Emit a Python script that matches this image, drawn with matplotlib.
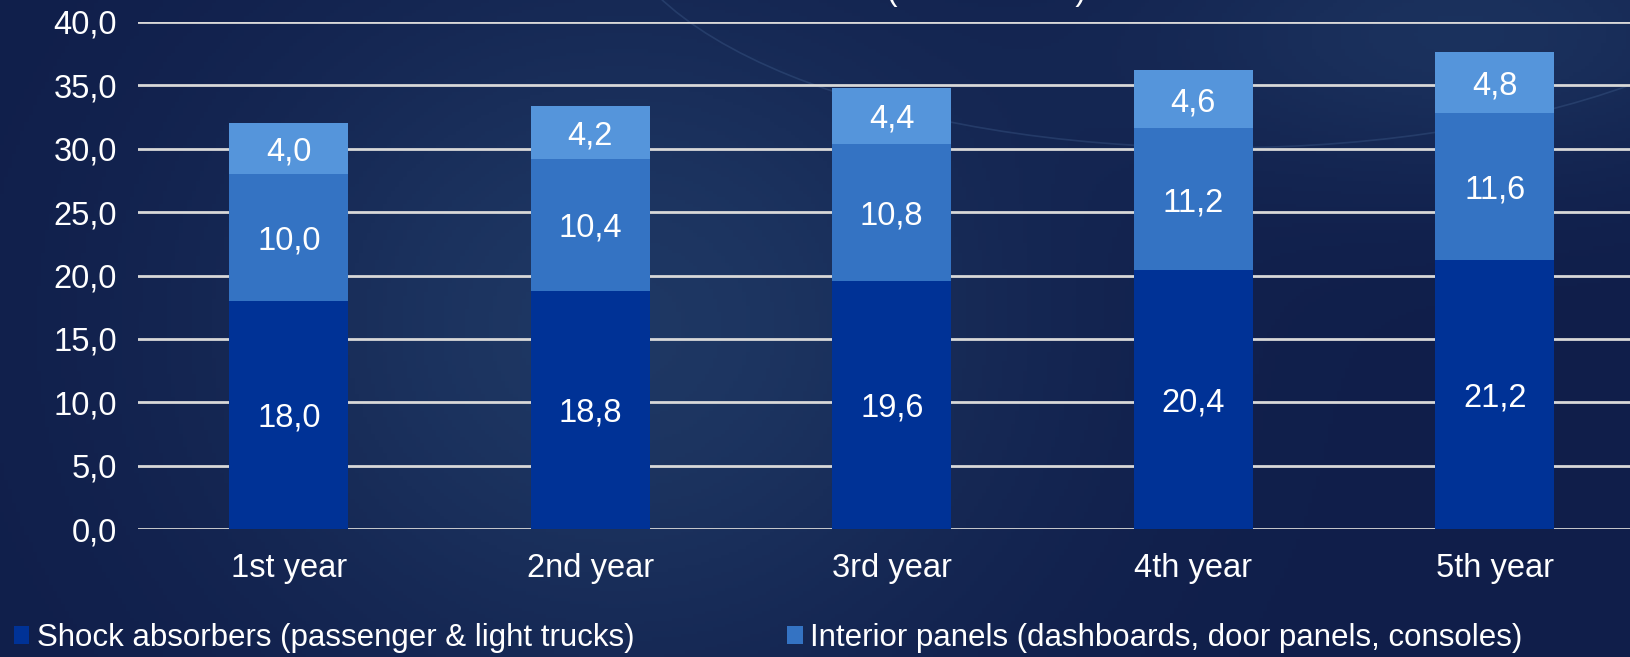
import numpy as np
import matplotlib
matplotlib.use("Agg")
import matplotlib.pyplot as plt
from matplotlib.patches import Ellipse

plt.rcParams['font.family'] = ['Liberation Sans', 'DejaVu Sans']

categories = ["1st year", "2nd year", "3rd year", "4th year", "5th year"]
shock = [18.0, 18.8, 19.6, 20.4, 21.2]
interior = [10.0, 10.4, 10.8, 11.2, 11.6]
other = [4.0, 4.2, 4.4, 4.6, 4.8]
series_names = ["Shock absorbers (passenger & light trucks)",
                "Interior panels (dashboards, door panels, consoles)",
                "Other components"]
yticks = [0, 5, 10, 15, 20, 25, 30, 35, 40]

colors = ["#003296", "#3473C3", "#5595DB"]

W, H = 1630, 657
fig = plt.figure(figsize=(W/100, H/100), dpi=100)

# background
bg = fig.add_axes([0, 0, 1, 1], zorder=-10)
yy, xx = np.mgrid[0:1:200j, 0:1:400j]
c0 = np.array([0x10, 0x1e, 0x4a]) / 255
c1 = np.array([0x22, 0x3e, 0x6a]) / 255
t = np.exp(-((xx - 0.38) ** 2) / 0.06 - ((yy - 0.5) ** 2) / 0.3)
t2 = np.exp(-((xx - 0.9) ** 2) / 0.04 - ((yy - 0.95) ** 2) / 0.05) * 0.6
tt = np.clip(t * 0.8 + t2, 0, 1)
img = c0[None, None, :] * (1 - tt[..., None]) + c1[None, None, :] * tt[..., None]
bg.imshow(img, extent=[0, 1, 0, 1], aspect='auto', origin='lower')
bg.add_patch(Ellipse((0.75, 1.15), 0.75, 0.75, fill=False, ec="#4a6a9a", lw=1.2, alpha=0.3))
bg.set_xlim(0, 1); bg.set_ylim(0, 1)
bg.axis('off')

left_px, bottom_px = 138, H - 529
top_px = 22
span = 301.5 * 5
ax = fig.add_axes([left_px / W, bottom_px / H, span / W, (529 - top_px) / H])
ax.patch.set_alpha(0)

x = np.arange(len(categories))
bw = 0.395
b1 = ax.bar(x, shock, bw, color=colors[0], label=series_names[0], zorder=3)
b2 = ax.bar(x, interior, bw, bottom=shock, color=colors[1], label=series_names[1], zorder=3)
bot3 = np.array(shock) + np.array(interior)
b3 = ax.bar(x, other, bw, bottom=bot3, color=colors[2], label=series_names[2], zorder=3)

def fmt(v):
    return f"{v:.1f}".replace(".", ",")

fs = 23.5
for i in range(len(categories)):
    ax.text(x[i], shock[i] / 2, fmt(shock[i]), ha='center', va='center_baseline', color='white', fontsize=fs, zorder=4)
    ax.text(x[i], shock[i] + interior[i] / 2, fmt(interior[i]), ha='center', va='center_baseline', color='white', fontsize=fs, zorder=4)
    ax.text(x[i], bot3[i] + other[i] / 2, fmt(other[i]), ha='center', va='center_baseline', color='white', fontsize=fs, zorder=4)

ax.set_xlim(-0.5, len(categories) - 0.5)
ax.set_ylim(0, 40)
ax.set_yticks(yticks)
ax.set_yticklabels([fmt(v) for v in yticks], color='white', fontsize=fs)
ax.set_xticks(x)
ax.set_xticklabels(categories, color='white', fontsize=fs)
ax.tick_params(axis='y', length=0, pad=15)
ax.tick_params(axis='x', length=0, pad=17)
for s in ax.spines.values():
    s.set_visible(False)
ax.grid(axis='y', color='#d8d8d8', lw=2, zorder=1)
ax.set_axisbelow(True)

leg = fig.legend(handles=[b1, b2], labels=series_names[:2], loc='center left',
                 bbox_to_anchor=(-0.005, 1 - 638 / H), ncol=2, frameon=False,
                 fontsize=22.5, labelcolor='white', handlelength=0.5, handleheight=0.5,
                 handletextpad=0.25, columnspacing=4.87, borderaxespad=0.3)

fig.text(1086 / W, 1.0, "Market size (USD billions)", ha='right', va='baseline',
         color='white', fontsize=fs)

fig.savefig("out.png", dpi=100)
